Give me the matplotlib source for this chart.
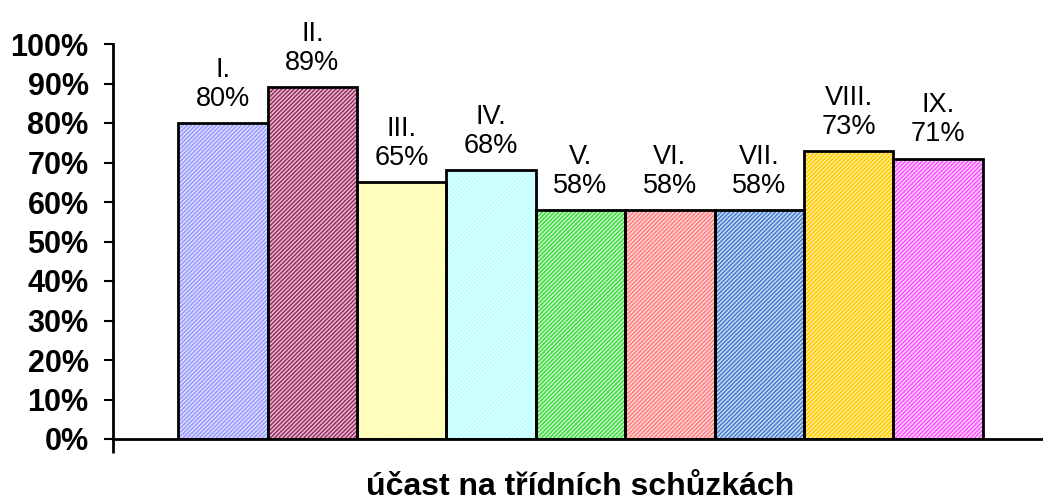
import matplotlib
import matplotlib.pyplot as plt
from matplotlib.ticker import FuncFormatter

matplotlib.use('Agg')

# data
classes = ["I.", "II.", "III.", "IV.", "V.", "VI.", "VII.", "VIII.", "IX."]
values = [80, 89, 65, 68, 58, 58, 58, 73, 71]
pattern_colors = ["#9a9aff", "#993366", "#ffffaa", "#b8ffff", "#44dd44",
                  "#ff8080", "#4a80d0", "#ffcc00", "#ff55ff"]
tint_colors = ["#e4e4ff", "#f0c8d8", "#ffffd8", "#e8ffff", "#d8f8d8",
               "#ffe0e0", "#d8e4f6", "#fff0b0", "#ffe0ff"]
xlabel = "účast na třídních schůzkách"

plt.rcParams['font.family'] = ['Liberation Sans', 'DejaVu Sans']
plt.rcParams['hatch.linewidth'] = 1.2

fig = plt.figure(figsize=(10.43, 5.04), dpi=100)
ax = fig.add_axes([113 / 1043, 65 / 504, 935 / 1043, 395 / 504])

x = list(range(len(values)))
for i, v in enumerate(values):
    ax.bar(i, v, width=1.0, color=tint_colors[i], edgecolor=pattern_colors[i],
           hatch='/' * 8, linewidth=0, zorder=2)
ax.bar(x, values, width=1.0, fill=False, edgecolor='black', linewidth=2, zorder=3)

for i, v in enumerate(values):
    ax.annotate(f"{classes[i]}\n{v}%", (i, v), xytext=(0, 8), textcoords='offset points',
                ha='center', va='bottom', fontsize=19.5, linespacing=1.15)

ax.set_xlim(-1.23, 9.23)
ax.set_ylim(0, 100)
ax.set_yticks(range(0, 101, 10))
ax.yaxis.set_major_formatter(FuncFormatter(lambda v, p: f"{v:.0f}%"))
ax.tick_params(axis='y', length=6.5, width=1.5, pad=11, labelsize=22)
for lbl in ax.get_yticklabels():
    lbl.set_fontweight('bold')

ax.set_xticks([-1.23])
ax.set_xticklabels([""])
ax.tick_params(axis='x', length=10, width=2, direction='out')

for side in ['top', 'right']:
    ax.spines[side].set_visible(False)
ax.spines['left'].set_linewidth(2)
ax.spines['bottom'].set_linewidth(2)

fig.text(580 / 1043, 2 / 504, xlabel, ha='center', va='bottom', fontsize=23, fontweight='bold')

plt.savefig("out.png", dpi=100)
